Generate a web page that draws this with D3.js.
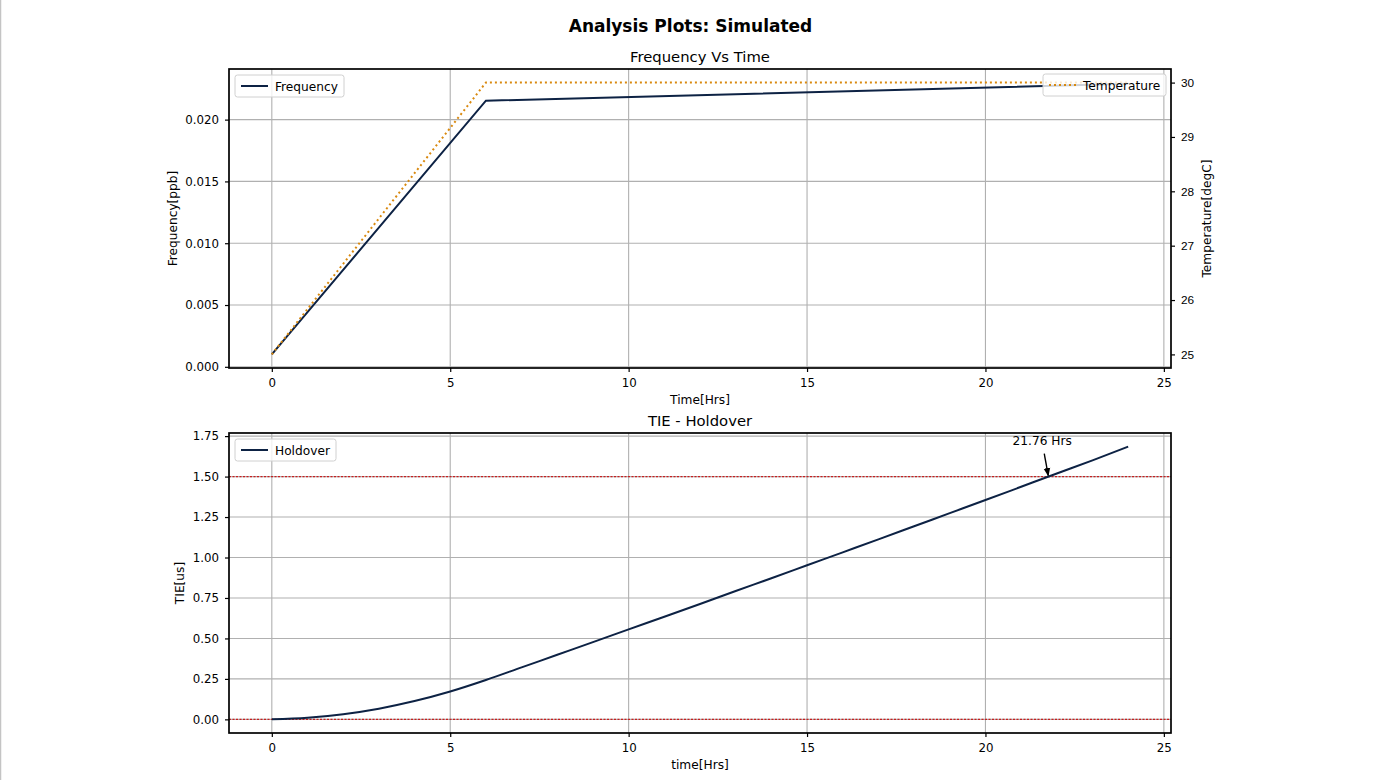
<!DOCTYPE html>
<html><head><meta charset="utf-8">
<script src="https://cdn.jsdelivr.net/npm/d3@7"></script>
<style>
body{margin:0;background:#fff;}
svg{display:block;font-family:"DejaVu Sans",sans-serif;}
</style></head><body>
<svg id="c" width="1375" height="780"></svg>
<script>
// ---- data ----
const freqTime = [0, 6, 24];
const freqValues = [0.001, 0.02153, 0.0229];
const tempTime = [0, 6, 24];
const tempValues = [25, 30, 30];
const tieTime = [0,1,2,3,4,5,6,7,8,9,10,11,12,13,14,15,16,17,18,19,20,21,22,23,24];
const tieValues = [0,0.0098,0.032,0.066,0.113,0.172,0.243,0.321,0.399,0.477,0.556,0.634,0.713,0.793,0.872,0.952,1.032,1.112,1.193,1.274,1.355,1.437,1.519,1.600,1.685];
const xTicks = [0,5,10,15,20,25];
const freqTicks = [0,0.005,0.010,0.015,0.020];
const tempTicks = [25,26,27,28,29,30];
const tieTicks = [0,0.25,0.5,0.75,1.0,1.25,1.5,1.75];
const tieLimit = 1.5;
const crossHrs = 21.76;

const navy = "#0d2244", orange = "#d9890f", red = "#c81e1e", gridC = "#b0b0b0";
const svg = d3.select("#c");

svg.append("line").attr("x1",0.5).attr("x2",0.5).attr("y1",0).attr("y2",780).attr("stroke","#c4c4c4").attr("stroke-width",1.5);

svg.append("text").attr("x",690.5).attr("y",32).attr("text-anchor","middle")
  .attr("font-weight","bold").attr("font-size",17).text("Analysis Plots: Simulated");

const L = 229, R = 1171;
const x = d3.scaleLinear().domain([-1.2,25.2]).range([L,R]);

function frame(top,bottom,title,xlabel){
  const g = svg.append("g");
  g.selectAll(".vg").data(xTicks).join("line").attr("x1",d=>x(d)).attr("x2",d=>x(d))
    .attr("y1",top).attr("y2",bottom).attr("stroke",gridC).attr("stroke-width",1.1);
  svg.append("text").attr("x",(L+R)/2).attr("y",top-7).attr("text-anchor","middle")
    .attr("font-size",14.8).text(title);
  svg.append("text").attr("x",(L+R)/2).attr("y",bottom+36).attr("text-anchor","middle")
    .attr("font-size",12.2).text(xlabel);
  return g;
}

// ---------- top plot ----------
const t1 = 69, b1 = 368;
const yF = d3.scaleLinear().domain([-0.0000955,0.0240955]).range([b1,t1]);
const yT = d3.scaleLinear().domain([24.75,30.25]).range([b1,t1]);
const g1 = frame(t1,b1,"Frequency Vs Time","Time[Hrs]");
g1.selectAll(".hg").data(freqTicks).join("line").attr("x1",L).attr("x2",R)
  .attr("y1",d=>yF(d)).attr("y2",d=>yF(d)).attr("stroke",gridC).attr("stroke-width",1.1);

const tempPts = tempTime.map((t,i)=>[t,tempValues[i]]);
const freqPts = freqTime.map((t,i)=>[t,freqValues[i]]);
svg.append("path").attr("d",d3.line().x(d=>x(d[0])).y(d=>yF(d[1]))(freqPts))
  .attr("fill","none").attr("stroke",navy).attr("stroke-width",2);
svg.append("path").attr("d",d3.line().x(d=>x(d[0])).y(d=>yT(d[1]))(tempPts))
  .attr("fill","none").attr("stroke",orange).attr("stroke-width",2).attr("stroke-dasharray","2,3");

function axes(top,bottom,yScale,yTicks,fmt){
  const ax = svg.append("g").attr("transform",`translate(0,${bottom})`)
    .call(d3.axisBottom(x).tickValues(xTicks).tickSize(4).tickPadding(7).tickFormat(d3.format("d")));
  const ay = svg.append("g").attr("transform",`translate(${L},0)`)
    .call(d3.axisLeft(yScale).tickValues(yTicks).tickSize(4).tickPadding(6).tickFormat(fmt));
  [ax,ay].forEach(a=>{a.select(".domain").remove();a.selectAll("text").attr("font-size",11.8).attr("fill","#000").attr("font-family","DejaVu Sans");a.selectAll(".tick line").attr("stroke","#000").attr("stroke-width",1.2);});
  svg.append("rect").attr("x",L).attr("y",top).attr("width",R-L).attr("height",bottom-top)
    .attr("fill","none").attr("stroke","#000").attr("stroke-width",1.7);
}
axes(t1,b1,yF,freqTicks,d3.format(".3f"));
const ayr = svg.append("g").attr("transform",`translate(${R},0)`)
  .call(d3.axisRight(yT).tickValues(tempTicks).tickSize(4).tickPadding(6).tickFormat(d3.format("d")));
ayr.select(".domain").remove();
ayr.selectAll("text").attr("font-size",11.8).attr("fill","#000");
ayr.selectAll(".tick line").attr("stroke","#000").attr("stroke-width",1.2);

svg.append("text").attr("transform",`translate(177,${(t1+b1)/2}) rotate(-90)`).attr("text-anchor","middle")
  .attr("font-size",12.2).text("Frequency[ppb]");
svg.append("text").attr("transform",`translate(1211,${(t1+b1)/2}) rotate(-90)`).attr("text-anchor","middle")
  .attr("font-size",12.2).text("Temperature[degC]");

function legend(x0,y0,w,label,color,dash){
  svg.append("rect").attr("x",x0).attr("y",y0).attr("width",w).attr("height",22).attr("rx",2.5)
    .attr("fill","#fff").attr("fill-opacity",0.8).attr("stroke","#d0d0d0");
  svg.append("line").attr("x1",x0+6).attr("x2",x0+33).attr("y1",y0+11).attr("y2",y0+11)
    .attr("stroke",color).attr("stroke-width",2).attr("stroke-dasharray",dash||null);
  svg.append("text").attr("x",x0+40).attr("y",y0+15.5).attr("font-size",12.2).text(label);
}
legend(235,75,109,"Frequency",navy);
legend(1043,74,123,"Temperature",orange,"2,3");

// ---------- bottom plot ----------
const t2 = 433, b2 = 733;
const yH = d3.scaleLinear().domain([-0.08425,1.76925]).range([b2,t2]);
const g2 = frame(t2,b2,"TIE - Holdover","time[Hrs]");
g2.selectAll(".hg").data(tieTicks).join("line").attr("x1",L).attr("x2",R)
  .attr("y1",d=>yH(d)).attr("y2",d=>yH(d)).attr("stroke",gridC).attr("stroke-width",1.1);
[0,tieLimit].forEach(v=>{
  svg.append("line").attr("x1",L).attr("x2",R).attr("y1",yH(v)).attr("y2",yH(v))
    .attr("stroke",red).attr("stroke-width",1.2).attr("stroke-dasharray","2,1.5");
});
const tiePts = tieTime.map((t,i)=>[t,tieValues[i]]);
svg.append("path").attr("d",d3.line().curve(d3.curveMonotoneX).x(d=>x(d[0])).y(d=>yH(d[1]))(tiePts))
  .attr("fill","none").attr("stroke",navy).attr("stroke-width",2);
axes(t2,b2,yH,tieTicks,d3.format(".2f"));
svg.append("text").attr("transform",`translate(184,${(t2+b2)/2}) rotate(-90)`).attr("text-anchor","middle")
  .attr("font-size",12.2).text("TIE[us]");
legend(235,439,101,"Holdover",navy);

// annotation
const ax0 = x(crossHrs), ay0 = yH(tieLimit);
svg.append("defs").append("marker").attr("id","ah").attr("viewBox","0 0 10 10").attr("refX",9).attr("refY",5)
  .attr("markerWidth",6).attr("markerHeight",6).attr("orient","auto")
  .append("path").attr("d","M0,1 L10,5 L0,9 Z").attr("fill","#000");
svg.append("line").attr("x1",ax0-4).attr("y1",ay0-23).attr("x2",ax0).attr("y2",ay0-1)
  .attr("stroke","#000").attr("stroke-width",1.4).attr("marker-end","url(#ah)");
svg.append("text").attr("x",ax0-6).attr("y",ay0-32).attr("text-anchor","middle").attr("font-size",12.2)
  .text(crossHrs.toFixed(2)+" Hrs");
</script></body></html>
